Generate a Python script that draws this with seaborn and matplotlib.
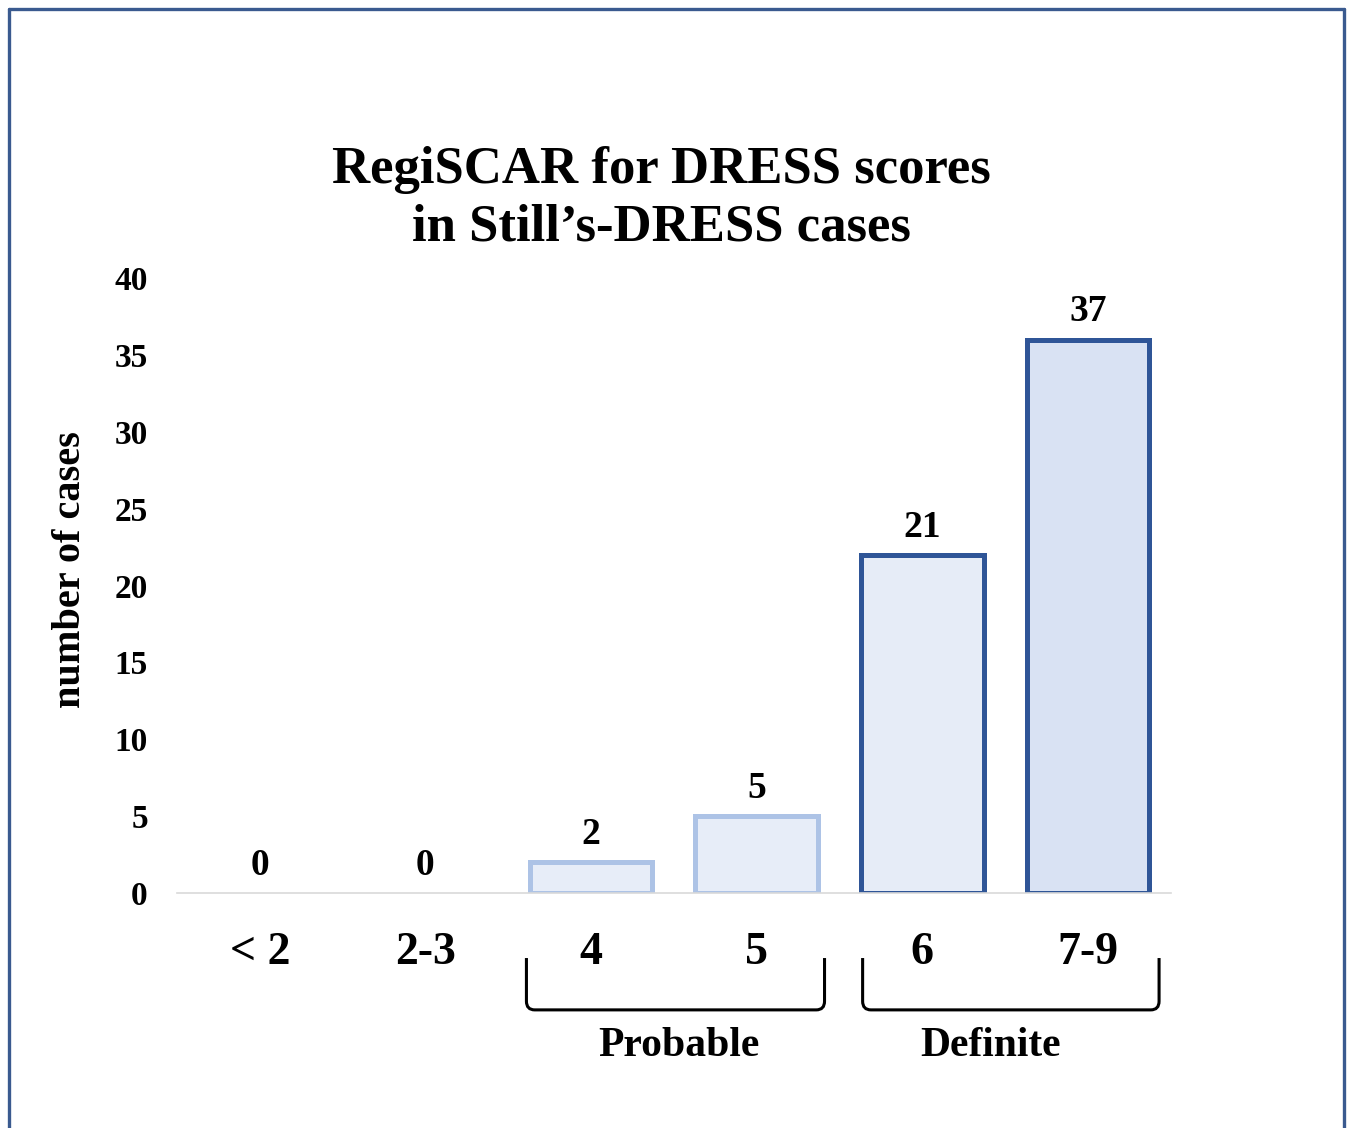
import matplotlib
matplotlib.use("Agg")
import matplotlib.pyplot as plt
from matplotlib.path import Path
from matplotlib.patches import PathPatch
from matplotlib.lines import Line2D
import matplotlib.transforms as mtransforms
import seaborn as sns
import pandas as pd

# ---- data ----
categories = ["< 2", "2-3", "4", "5", "6", "7-9"]
bar_heights = [0, 0, 2, 5, 22, 36]
value_labels = ["0", "0", "2", "5", "21", "37"]
groups = ["Probable", "Definite"]
group_members = [["4", "5"], ["6", "7-9"]]
y_ticks = [0, 5, 10, 15, 20, 25, 30, 35, 40]

# ---- style ----
fill_colors = ["#e7edf8", "#e7edf8", "#e7edf8", "#e7edf8", "#e6ecf7", "#d9e2f3"]
edge_colors = ["none", "none", "#adc3e6", "#adc3e6", "#2f5597", "#2f5597"]

sns.set_theme(style="white")
plt.rcParams["font.family"] = ["Liberation Serif", "DejaVu Serif"]
plt.rcParams["font.weight"] = "bold"

fig = plt.figure(figsize=(13.49, 11.28), dpi=100)
ax = fig.add_axes([0.1312, 0.2083, 0.7366, 0.5452])

df = pd.DataFrame({"cat": categories, "n": bar_heights})
sns.barplot(data=df, x="cat", y="n", hue="cat", order=categories,
            hue_order=categories, palette=fill_colors, legend=False,
            width=0.74, ax=ax, saturation=1)

for patch, ec in zip(ax.patches, edge_colors):
    patch.set_edgecolor(ec)
    patch.set_linewidth(3.6 if ec != "none" else 0)

# value labels
for i, (h, lab) in enumerate(zip(bar_heights, value_labels)):
    ax.annotate(lab, (i, h), xytext=(0, 13), textcoords="offset points",
                ha="center", va="baseline", fontsize=27, fontweight="bold",
                color="black")

ax.set_xlim(-0.5, len(categories) - 0.5)
ax.set_ylim(0, 40)
ax.set_yticks(y_ticks)
ax.set_yticklabels([str(t) for t in y_ticks], fontsize=24, fontweight="bold")
ax.tick_params(axis="y", length=0, pad=21, colors="black")
ax.tick_params(axis="x", length=0, pad=28, labelsize=33, colors="black")
for lbl in ax.get_xticklabels():
    lbl.set_fontweight("bold")
ax.set_xlabel("")
ax.set_ylabel("")
for s in ["top", "right", "left"]:
    ax.spines[s].set_visible(False)
ax.spines["bottom"].set_color("#d9d9d9")
ax.spines["bottom"].set_linewidth(1.2)
ax.grid(False)

# brackets and group labels
trans = mtransforms.blended_transform_factory(ax.transData, ax.transAxes)
y_top, y_bot = -0.1057, -0.190
rx, ry = 0.05, 0.014
bracket_offsets = [(-0.39, 0.41), (-0.36, 0.43)]
label_pos = [2.53, 4.41]
for (members, g, (lo, hi), lx) in zip(group_members, groups, bracket_offsets, label_pos):
    i0 = categories.index(members[0])
    i1 = categories.index(members[-1])
    x0, x1 = i0 + lo, i1 + hi
    verts = [(x0, y_top), (x0, y_bot + ry), (x0, y_bot), (x0 + rx, y_bot),
             (x1 - rx, y_bot), (x1, y_bot), (x1, y_bot + ry), (x1, y_top)]
    codes = [Path.MOVETO, Path.LINETO, Path.CURVE3, Path.CURVE3,
             Path.LINETO, Path.CURVE3, Path.CURVE3, Path.LINETO]
    pp = PathPatch(Path(verts, codes), transform=trans, fill=False,
                   edgecolor="black", linewidth=2.2, clip_on=False)
    ax.add_patch(pp)
    ax.text(lx, -0.248, g, transform=trans, ha="center", va="center",
            fontsize=30, fontweight="bold", color="black")

# y label
fig.text(0.052, 0.4947, "number of cases", rotation=90, ha="center",
         va="center", fontsize=29, fontweight="bold", color="black")

# title
fig.text(0.490, 0.8378, "RegiSCAR for DRESS scores", ha="center",
         va="baseline", fontsize=38, fontweight="bold", color="black")
fig.text(0.490, 0.7872, "in Still\u2019s-DRESS cases", ha="center",
         va="baseline", fontsize=38, fontweight="bold", color="black")

# outer frame
fc = "#3a5a8f"
fig.add_artist(Line2D([9 / 1349, 9 / 1349], [0, 1 - 9 / 1128],
                      transform=fig.transFigure, color=fc, linewidth=2.4))
fig.add_artist(Line2D([1344 / 1349, 1344 / 1349], [0, 1 - 9 / 1128],
                      transform=fig.transFigure, color=fc, linewidth=2.4))
fig.add_artist(Line2D([9 / 1349, 1344 / 1349], [1 - 9 / 1128, 1 - 9 / 1128],
                      transform=fig.transFigure, color=fc, linewidth=2.4))

fig.savefig("out.png", dpi=100, facecolor="white")
